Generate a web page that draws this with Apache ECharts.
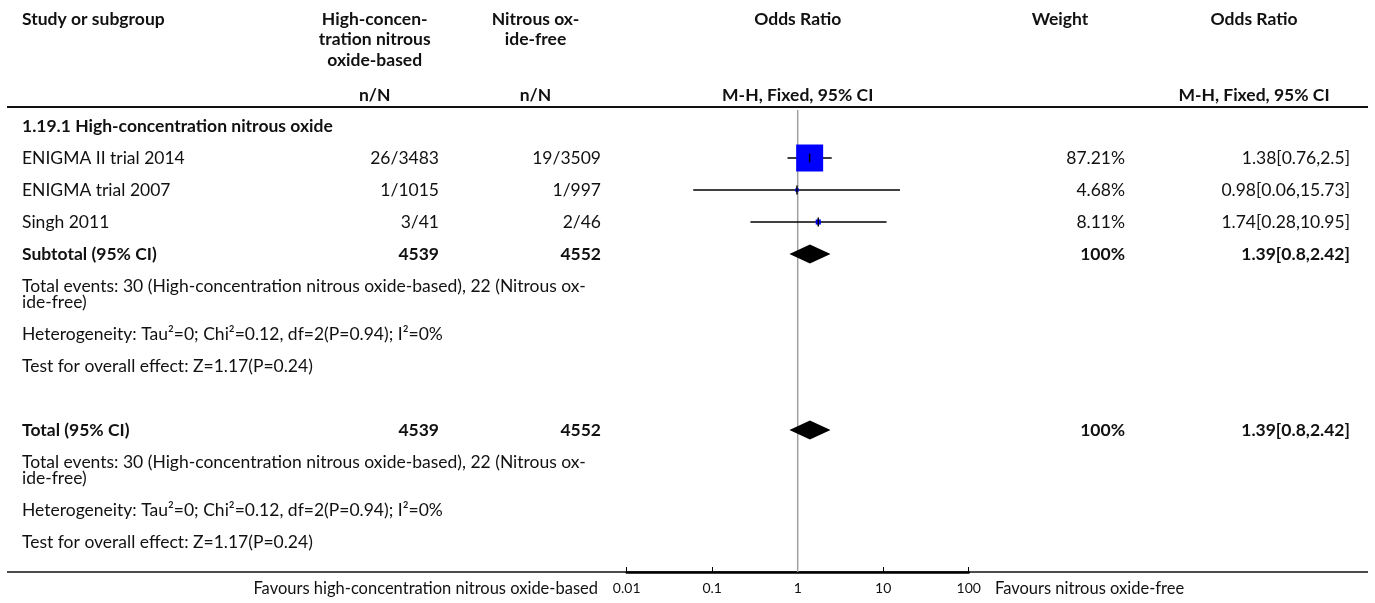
<!DOCTYPE html>
<html>
<head>
<meta charset="utf-8">
<script src="https://cdn.jsdelivr.net/npm/echarts@6/dist/echarts.min.js"></script>
<style>
  html, body { margin: 0; padding: 0; background: #ffffff; }
  #chart { width: 1375px; height: 603px; }
</style>
</head>
<body>
<div id="chart"></div>
<script>
// ---- Study data ----
const studies = ['ENIGMA II trial 2014', 'ENIGMA trial 2007', 'Singh 2011'];
const expEvents = ['26/3483', '1/1015', '3/41'];
const ctrlEvents = ['19/3509', '1/997', '2/46'];
const weights = [87.21, 4.68, 8.11];
const orPoint = [1.38, 0.98, 1.74];
const orLower = [0.76, 0.06, 0.28];
const orUpper = [2.5, 15.73, 10.95];

// ---- Pooled estimate (subtotal and total are identical here) ----
const pooledTotals = [4539, 4552];
const pooledPoint = 1.39;
const pooledLower = 0.8;
const pooledUpper = 2.42;
const pooledWeight = 100;

// ---- Text content ----
const subgroupTitle = '1.19.1 High-concentration nitrous oxide';
const totalEventsLines = ['Total events: 30 (High-concentration nitrous oxide-based), 22 (Nitrous ox-', 'ide-free)'];
const heterogeneityText = 'Heterogeneity: Tau\u00b2=0; Chi\u00b2=0.12, df=2(P=0.94); I\u00b2=0%';
const overallEffectText = 'Test for overall effect: Z=1.17(P=0.24)';
const axisTickValues = [0.01, 0.1, 1, 10, 100];
const axisTickLabels = ['0.01', '0.1', '1', '10', '100'];
const favoursLeft = 'Favours high-concentration nitrous oxide-based';
const favoursRight = 'Favours nitrous oxide-free';

// ---- Layout ----
const FONT = 'Lato';
const TEXT = '#111111';
const FS = 17.5;
const COL = { name: 22, exp: 439, ctrl: 601, weight: 1125, or: 1350 };
const HEAD = { exp: 374.7, ctrl: 535.5, plot: 797.7, weight: 1060, or: 1254 };
const PLOT_LEFT = 626.7, PLOT_RIGHT = 968.7;
const GRID_TOP = 110, GRID_BOTTOM = 572, UNIT = 16; // one text line = 16px, one row = 2 units
const yMax = (GRID_BOTTOM - GRID_TOP) / UNIT;

const fmtOR = (p, l, u) => p + '[' + l + ',' + u + ']';

// Build the table rows (positions in line units from the top of the plot area)
const textCells = [];
const studyPos = [];
const pooledPos = [];
let pos = 1;
function cell(text, x, align, bold, line) {
  textCells.push({ text: String(text), x: x, align: align, bold: !!bold, pos: pos + (line || 0) });
}
function nextRow(lines) { pos += 2 + (lines - 1); }

cell(subgroupTitle, COL.name, 'left', true); nextRow(1);
studies.forEach((s, i) => {
  cell(s, COL.name, 'left');
  cell(expEvents[i], COL.exp, 'right');
  cell(ctrlEvents[i], COL.ctrl, 'right');
  cell(weights[i] + '%', COL.weight, 'right');
  cell(fmtOR(orPoint[i], orLower[i], orUpper[i]), COL.or, 'right');
  studyPos.push(pos);
  nextRow(1);
});
function pooledBlock(label) {
  cell(label, COL.name, 'left', true);
  cell(pooledTotals[0], COL.exp, 'right', true);
  cell(pooledTotals[1], COL.ctrl, 'right', true);
  cell(pooledWeight + '%', COL.weight, 'right', true);
  cell(fmtOR(pooledPoint, pooledLower, pooledUpper), COL.or, 'right', true);
  pooledPos.push(pos);
  nextRow(1);
  cell(totalEventsLines[0], COL.name, 'left', false, 0);
  cell(totalEventsLines[1], COL.name, 'left', false, 1.05);
  nextRow(2);
  cell(heterogeneityText, COL.name, 'left'); nextRow(1);
  cell(overallEffectText, COL.name, 'left'); nextRow(1);
}
pooledBlock('Subtotal (95% CI)');
nextRow(1); // spacer row
pooledBlock('Total (95% CI)');

function txt(text, x, y, align, bold, size) {
  return {
    type: 'text', x: x, y: y, silent: true,
    style: {
      text: text, fill: TEXT, fontFamily: FONT, fontSize: size || FS,
      fontWeight: bold ? 'bold' : 'normal',
      align: align, verticalAlign: 'middle',
      textAlign: align, textVerticalAlign: 'middle'
    }
  };
}

const headerGraphics = [
  txt('Study or subgroup', COL.name, 19, 'left', true),
  txt('High-concen-', HEAD.exp, 19, 'center', true),
  txt('tration nitrous', HEAD.exp, 39.5, 'center', true),
  txt('oxide-based', HEAD.exp, 60, 'center', true),
  txt('Nitrous ox-', HEAD.ctrl, 19, 'center', true),
  txt('ide-free', HEAD.ctrl, 39.5, 'center', true),
  txt('Odds Ratio', HEAD.plot, 19, 'center', true),
  txt('Weight', HEAD.weight, 19, 'center', true),
  txt('Odds Ratio', HEAD.or, 19, 'center', true),
  txt('n/N', HEAD.exp, 95, 'center', true),
  txt('n/N', HEAD.ctrl, 95, 'center', true),
  txt('M-H, Fixed, 95% CI', HEAD.plot, 95, 'center', true),
  txt('M-H, Fixed, 95% CI', HEAD.or, 95, 'center', true),
  { type: 'line', silent: true, shape: { x1: 7, y1: 107, x2: 1368, y2: 107 }, style: { stroke: '#111', lineWidth: 2 } },
  { type: 'line', silent: true, shape: { x1: 7, y1: GRID_BOTTOM, x2: 1368, y2: GRID_BOTTOM }, style: { stroke: '#111', lineWidth: 1.5 } },
  txt(favoursLeft, 598, 589, 'right', false, 16.5),
  txt(favoursRight, 995, 589, 'left', false, 16.5)
];

const maxW = Math.max.apply(null, weights);
const BOX_MAX = 27;

const option = {
  animation: false,
  grid: { left: PLOT_LEFT, right: 1375 - PLOT_RIGHT, top: GRID_TOP, bottom: 603 - GRID_BOTTOM },
  xAxis: {
    type: 'log', logBase: 10, position: 'bottom',
    min: axisTickValues[0], max: axisTickValues[axisTickValues.length - 1],
    splitNumber: 4,
    axisLine: { show: true, onZero: false, lineStyle: { color: '#000', width: 2.5 } },
    axisTick: { show: true, inside: true, length: 5, lineStyle: { color: '#000', width: 1 } },
    splitLine: { show: false },
    axisLabel: {
      fontFamily: FONT, fontSize: 14, color: TEXT, margin: 9,
      formatter: function (v) {
        const k = axisTickValues.findIndex(t => Math.abs(Math.log10(t) - Math.log10(v)) < 1e-6);
        return k >= 0 ? axisTickLabels[k] : '';
      }
    }
  },
  yAxis: { type: 'value', min: 0, max: yMax, inverse: true, show: false },
  graphic: headerGraphics,
  series: [
    {
      // line of no effect
      type: 'custom', silent: true, z: 1,
      data: [[1, 0, yMax]],
      renderItem: function (params, api) {
        const a = api.coord([api.value(0), api.value(1)]);
        const b = api.coord([api.value(0), api.value(2)]);
        return { type: 'line', shape: { x1: a[0], y1: a[1], x2: b[0], y2: b[1] }, style: { stroke: '#a0a0a0', lineWidth: 1.5 } };
      }
    },
    {
      // table text
      type: 'custom', silent: true, z: 3,
      data: textCells.map(c => [1, c.pos]),
      renderItem: function (params, api) {
        const c = textCells[params.dataIndex];
        const y = api.coord([1, c.pos])[1];
        return txt(c.text, c.x, y, c.align, c.bold);
      }
    },
    {
      // study estimates: CI whisker, weighted box, centre tick
      type: 'custom', silent: true, z: 4,
      data: studies.map((s, i) => [orPoint[i], studyPos[i], orLower[i], orUpper[i], weights[i]]),
      encode: { x: 0, y: 1 },
      renderItem: function (params, api) {
        const y = api.value(1);
        const p = api.coord([api.value(0), y]);
        const lo = api.coord([api.value(2), y]);
        const hi = api.coord([api.value(3), y]);
        const size = BOX_MAX * Math.pow(api.value(4) / maxW, 0.7);
        return {
          type: 'group', children: [
            { type: 'line', shape: { x1: lo[0], y1: p[1], x2: hi[0], y2: p[1] }, style: { stroke: '#000', lineWidth: 1.5 } },
            { type: 'rect', shape: { x: p[0] - size / 2, y: p[1] - size / 2, width: size, height: size }, style: { fill: '#0000ff' } },
            { type: 'line', shape: { x1: p[0], y1: p[1] - 4.5, x2: p[0], y2: p[1] + 4.5 }, style: { stroke: '#000', lineWidth: 1.5 } }
          ]
        };
      }
    },
    {
      // pooled diamonds
      type: 'custom', silent: true, z: 4,
      data: pooledPos.map(yp => [pooledPoint, yp, pooledLower, pooledUpper]),
      encode: { x: 0, y: 1 },
      renderItem: function (params, api) {
        const y = api.value(1);
        const p = api.coord([api.value(0), y]);
        const lo = api.coord([api.value(2), y]);
        const hi = api.coord([api.value(3), y]);
        const h = 9.5;
        return {
          type: 'polygon',
          shape: { points: [[lo[0], p[1]], [p[0], p[1] - h], [hi[0], p[1]], [p[0], p[1] + h]] },
          style: { fill: '#000' }
        };
      }
    }
  ]
};

const chart = echarts.init(document.getElementById('chart'));
chart.setOption(option);
</script>
</body>
</html>
